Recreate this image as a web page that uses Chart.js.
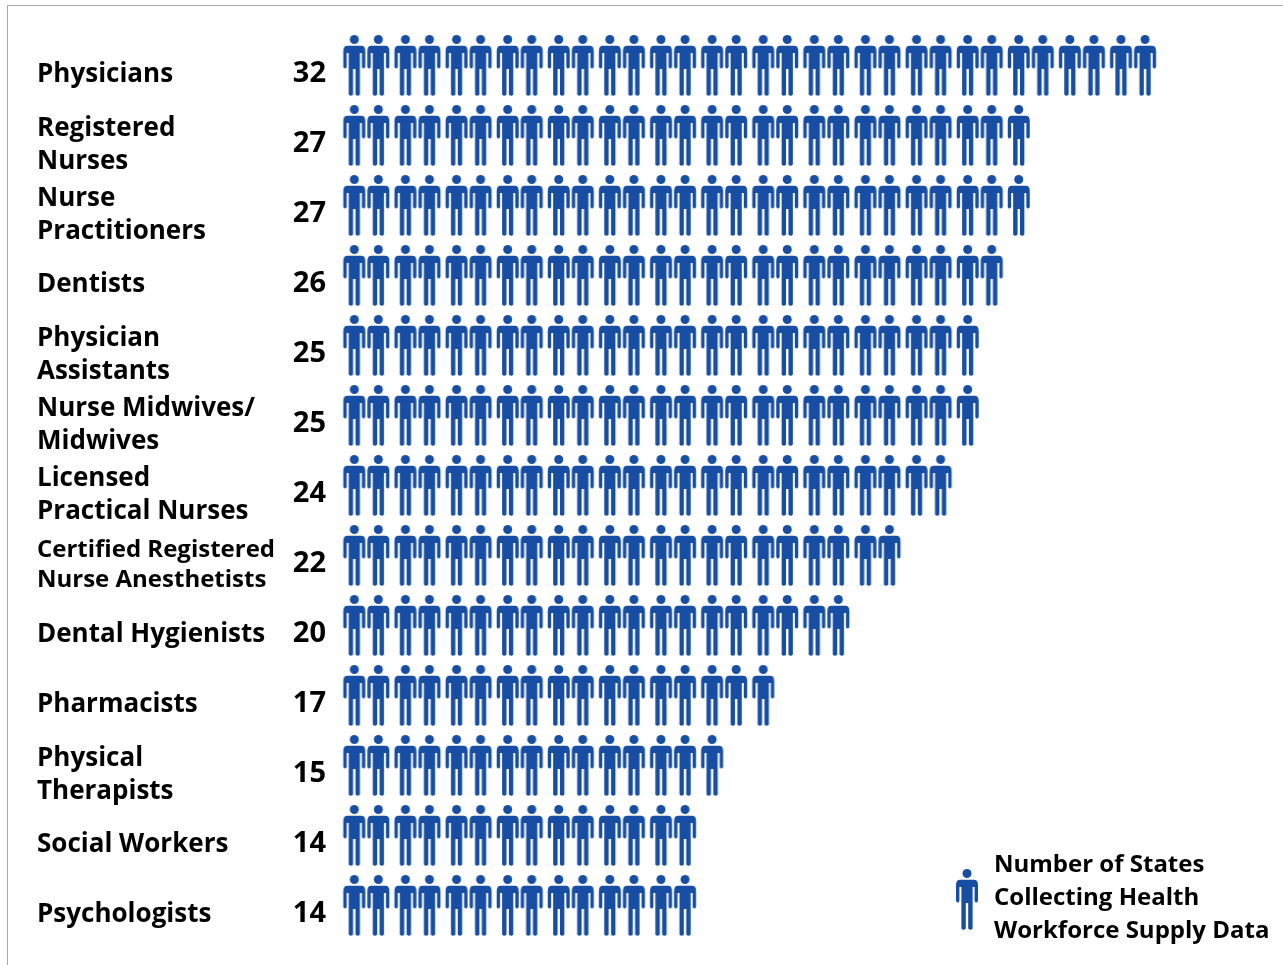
<!DOCTYPE html>
<html>
<head>
<meta charset="utf-8">
<title>Number of States Collecting Health Workforce Supply Data</title>
<script src="https://cdn.jsdelivr.net/npm/chart.js@4"></script>
<style>
    html, body { margin: 0; background: #fff; }
    #frame { position: absolute; left: 7px; top: 5px; right: 0; bottom: 0; border-top: 1px solid #aaa; border-left: 1px solid #aaa; }
    #wrap { position: absolute; left: 0; top: 0; width: 1283px; height: 965px; }
</style>
</head>
<body>
<div id="frame"></div>
<div id="wrap"><canvas id="myChart"></canvas></div>
<script>
// Data
const categories = [
    'Physicians', 'Registered\nNurses', 'Nurse\nPractitioners', 'Dentists',
    'Physician\nAssistants', 'Nurse Midwives/\nMidwives', 'Licensed\nPractical Nurses',
    'Certified Registered\nNurse Anesthetists', 'Dental Hygienists', 'Pharmacists',
    'Physical\nTherapists', 'Social Workers', 'Psychologists'
];
const stateCounts = [32, 27, 27, 26, 25, 25, 24, 22, 20, 17, 15, 14, 14];
const legendLines = ['Number of States', 'Collecting Health', 'Workforce Supply Data'];

const blue = '#174ea3';
const fontFamily = '"Open Sans", sans-serif';

// Person icon, drawn once and used as the point style
function makePerson(shiftX, shiftY) {
    const c = document.createElement('canvas');
    c.width = 30;
    c.height = 66;
    const g = c.getContext('2d');
    g.translate(15 + shiftX, 1 + shiftY);
    g.filter = 'blur(0.4px)';
    g.fillStyle = blue;
    g.beginPath();
    g.arc(0, 4.5, 4.5, 0, Math.PI * 2);
    g.fill();
    g.beginPath();
    g.moveTo(-7, 10.7);
    g.lineTo(7, 10.7);
    g.quadraticCurveTo(11, 10.7, 11, 16);
    g.lineTo(11, 32);
    g.quadraticCurveTo(9.2, 35, 7.6, 32);
    g.lineTo(7.6, 18);
    g.lineTo(5.6, 18);
    g.lineTo(5.6, 59.5);
    g.quadraticCurveTo(3.5, 62, 1.2, 59.5);
    g.lineTo(1.2, 34);
    g.lineTo(-1.2, 34);
    g.lineTo(-1.2, 59.5);
    g.quadraticCurveTo(-3.5, 62, -5.6, 59.5);
    g.lineTo(-5.6, 18);
    g.lineTo(-7.6, 18);
    g.lineTo(-7.6, 32);
    g.quadraticCurveTo(-9.2, 35, -11, 32);
    g.lineTo(-11, 16);
    g.quadraticCurveTo(-11, 10.7, -7, 10.7);
    g.closePath();
    g.fill();
    return c;
}

// Icons sit in pairs in the original, so odd and even ones lean together
const personLeft = makePerson(0.75, 0);
const personRight = makePerson(-0.75, 0);
const personLegend = makePerson(-3, 3);

// One point per state in every row
const points = [];
categories.forEach((name, row) => {
    for (let i = 1; i <= stateCounts[row]; i++) {
        points.push({ x: i, y: name });
    }
});

// The legend sits in the empty bottom right corner
const moveLegend = {
    id: 'moveLegend',
    afterLayout(chart) {
        const legend = chart.legend;
        legend.left = 949;
        legend.right = legend.left + legend.width;
        legend.top += 42;
        legend.bottom += 42;
    }
};

const ctx = document.getElementById('myChart');

new Chart(ctx, {
    type: 'scatter',
    plugins: [moveLegend],
    data: {
        datasets: [{
            label: legendLines.join(' '),
            data: points,
            clip: false,
            pointStyle: (c) => (c.raw && c.raw.x % 2 === 0 ? personRight : personLeft),
            pointRadius: 11,
            pointHoverRadius: 11
        }]
    },
    options: {
        responsive: true,
        maintainAspectRatio: false,
        animation: false,
        layout: { padding: { left: 37, top: 32, bottom: 23, right: 5 } },
        scales: {
            x: { type: 'linear', display: false, min: 0, max: 36.9 },
            y: {
                type: 'category',
                labels: categories,
                offset: true,
                position: 'left',
                weight: 2,
                border: { display: false },
                grid: { display: false, drawTicks: false },
                afterFit: (scale) => { scale.width = 253; },
                ticks: {
                    padding: 0,
                    crossAlign: 'far',
                    autoSkip: false,
                    labelOffset: 8,
                    color: '#000',
                    font: (c) => ({
                        family: fontFamily,
                        weight: '700',
                        size: c.index === 7 ? 24 : 26,
                        lineHeight: 1.26
                    }),
                    callback: function (value) {
                        return this.getLabelForValue(value).split('\n');
                    }
                }
            },
            yCount: {
                type: 'category',
                labels: stateCounts.map(String),
                offset: true,
                position: 'left',
                weight: 1,
                border: { display: false },
                grid: { display: false, drawTicks: false },
                afterFit: (scale) => { scale.width = 38; },
                ticks: {
                    padding: 2,
                    autoSkip: false,
                    labelOffset: 7,
                    color: '#000',
                    font: { family: fontFamily, weight: '700', size: 29 }
                }
            }
        },
        plugins: {
            tooltip: { enabled: false },
            legend: {
                position: 'chartArea',
                align: 'end',
                labels: {
                    usePointStyle: true,
                    boxWidth: 26,
                    padding: 9,
                    color: '#000',
                    font: { family: fontFamily, weight: '700', size: 24 },
                    generateLabels: () => legendLines.map((line, i) => ({
                        text: line,
                        fontColor: '#000',
                        fillStyle: 'rgba(0,0,0,0)',
                        strokeStyle: 'rgba(0,0,0,0)',
                        lineWidth: 0,
                        pointStyle: i === 1 ? personLegend : 'circle',
                        datasetIndex: 0
                    }))
                }
            }
        }
    }
});
</script>
</body>
</html>
